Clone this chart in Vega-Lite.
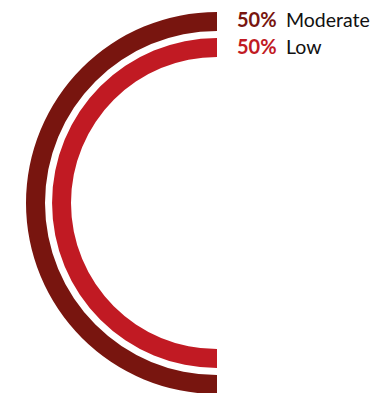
{
  "$schema": "https://vega.github.io/schema/vega-lite/v6.json",
  "width": 314,
  "height": 380,
  "autosize": {"type": "none"},
  "padding": {"left": 60, "top": 13, "right": 0, "bottom": 0},
  "background": "white",
  "config": {"view": {"stroke": null}},
  "data": {
    "values": [
      {"category": "Moderate", "share": 0.5},
      {"category": "Low", "share": 0.5}
    ]
  },
  "layer": [
    {
      "transform": [{"filter": "datum.category === 'Moderate'"}],
      "mark": {"type": "arc", "radius": 191, "radius2": 172},
      "encoding": {
        "theta": {"field": "share", "type": "quantitative", "scale": {"domain": [0, 1], "range": [6.283185, 0]}},
        "color": {"field": "category", "type": "nominal", "scale": {"domain": ["Moderate", "Low"], "range": ["#78150f", "#c11a23"]}, "legend": null}
      }
    },
    {
      "transform": [{"filter": "datum.category === 'Low'"}],
      "mark": {"type": "arc", "radius": 165, "radius2": 146},
      "encoding": {
        "theta": {"field": "share", "type": "quantitative", "scale": {"domain": [0, 1], "range": [6.283185, 0]}},
        "color": {"field": "category", "type": "nominal", "scale": {"domain": ["Moderate", "Low"], "range": ["#78150f", "#c11a23"]}, "legend": null}
      }
    },
    {
      "mark": {"type": "text", "align": "left", "baseline": "alphabetic", "font": "Lato", "fontSize": 20, "fontWeight": "bold"},
      "encoding": {
        "x": {"value": 177},
        "y": {"field": "category", "type": "nominal", "scale": {"type": "point", "padding": 0, "domain": ["Moderate", "Low"], "range": [14, 41]}, "axis": null},
        "text": {"field": "share", "type": "quantitative", "format": ".0%"},
        "color": {"field": "category", "type": "nominal", "scale": {"domain": ["Moderate", "Low"], "range": ["#78150f", "#c11a23"]}, "legend": null}
      }
    },
    {
      "mark": {"type": "text", "align": "left", "baseline": "alphabetic", "font": "Lato", "fontSize": 19.5, "color": "#111111"},
      "encoding": {
        "x": {"value": 226},
        "y": {"field": "category", "type": "nominal", "scale": {"type": "point", "padding": 0, "domain": ["Moderate", "Low"], "range": [14, 41]}, "axis": null},
        "text": {"field": "category", "type": "nominal"}
      }
    }
  ]
}
